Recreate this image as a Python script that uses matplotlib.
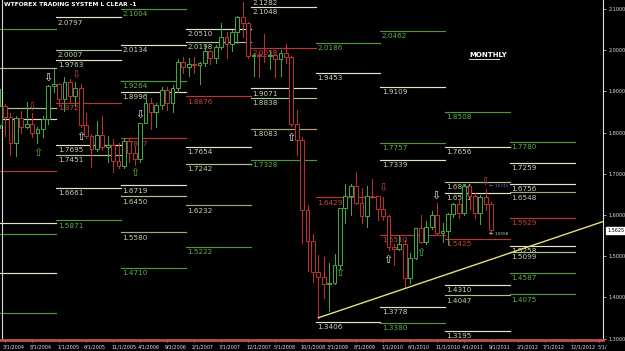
import numpy as np
import matplotlib.pyplot as plt
from matplotlib.patches import Rectangle
from matplotlib.lines import Line2D
import matplotlib.transforms as mtransforms

plt.rcParams['font.family'] = ['DejaVu Sans']

# monthly GBP/USD candles, month index 0 = Jan 2004 .. 92 = Sep 2011
opens = [1.7850, 1.8190, 1.8650, 1.8390, 1.7745, 1.8345, 1.8140, 1.8205, 1.7995, 1.8085, 1.8330, 1.9125,
         1.9190, 1.8825, 1.9230, 1.8880, 1.9090, 1.8185, 1.7910, 1.7600, 1.7950, 1.7655, 1.7695, 1.7305,
         1.7190, 1.7795, 1.7515, 1.7365, 1.8235, 1.8710, 1.8490, 1.8675, 1.9040, 1.8720, 1.9090, 1.9705,
         1.9580, 1.9660, 1.9630, 1.9680, 1.9985, 1.9800, 2.0070, 2.0325, 2.0140, 2.0450, 2.0815, 2.0655,
         1.9855, 1.9890, 1.9855, 1.9850, 1.9880, 1.9790, 1.9930, 1.9825, 1.8210, 1.7810, 1.6115, 1.5360,
         1.4620, 1.4485, 1.4315, 1.4340, 1.4795, 1.6160, 1.6450, 1.6700, 1.6290, 1.5980, 1.6465, 1.6450,
         1.6150, 1.5985, 1.5235, 1.5185, 1.5300, 1.4460, 1.4945, 1.5685, 1.5345, 1.5705, 1.6010, 1.5575,
         1.5615, 1.6025, 1.6260, 1.6045, 1.6695, 1.6450, 1.6050, 1.6425, 1.6255]
highs = [1.8480, 1.9050, 1.8700, 1.8480, 1.8395, 1.8520, 1.8750, 1.8480, 1.8135, 1.8405, 1.9150, 1.9550,
         1.9200, 1.9340, 1.9310, 1.9235, 1.9190, 1.8480, 1.7975, 1.8270, 1.8410, 1.7920, 1.7850, 1.7745,
         1.7880, 1.7880, 1.7670, 1.8240, 1.8935, 1.8840, 1.8720, 1.9110, 1.9095, 1.9155, 1.9790, 1.9845,
         1.9820, 1.9845, 1.9720, 2.0135, 2.0000, 2.0120, 2.0655, 2.0450, 2.0480, 2.0840, 2.1160, 2.0680,
         1.9935, 1.9940, 2.0395, 1.9990, 1.9880, 1.9995, 2.0155, 1.9855, 1.8555, 1.7900, 1.6235, 1.5545,
         1.5030, 1.4985, 1.4840, 1.5045, 1.6170, 1.6745, 1.6745, 1.7040, 1.6660, 1.6700, 1.6880, 1.6455,
         1.6445, 1.5995, 1.5295, 1.5525, 1.5395, 1.5070, 1.5695, 1.5995, 1.5860, 1.6105, 1.6300, 1.5810,
         1.6060, 1.6280, 1.6400, 1.6745, 1.6700, 1.6545, 1.6475, 1.6620, 1.6320]
lows = [1.7780, 1.8110, 1.7925, 1.7455, 1.7440, 1.7990, 1.8120, 1.7905, 1.7755, 1.7885, 1.8220, 1.8995,
        1.8645, 1.8530, 1.8750, 1.8650, 1.8135, 1.7875, 1.7160, 1.7565, 1.7585, 1.7285, 1.7045, 1.7150,
        1.7135, 1.7275, 1.7215, 1.7285, 1.8230, 1.8095, 1.8140, 1.8580, 1.8540, 1.8510, 1.8990, 1.9440,
        1.9365, 1.9440, 1.9175, 1.9605, 1.9660, 1.9685, 2.0040, 1.9810, 1.9985, 2.0175, 2.0310, 1.9810,
        1.9370, 1.9360, 1.9715, 1.9545, 1.9360, 1.9370, 1.9690, 1.8150, 1.7445, 1.5330, 1.4630, 1.4385,
        1.3505, 1.3985, 1.3660, 1.4320, 1.4690, 1.5800, 1.6005, 1.6255, 1.5805, 1.5705, 1.6420, 1.5885,
        1.5870, 1.5155, 1.4780, 1.5150, 1.4230, 1.4350, 1.4930, 1.5330, 1.5295, 1.5650, 1.5535, 1.5350,
        1.5300, 1.5950, 1.5935, 1.5990, 1.6145, 1.5935, 1.5780, 1.6125, 1.5530]
closes = [1.8190, 1.8650, 1.8390, 1.7745, 1.8345, 1.8140, 1.8205, 1.7995, 1.8085, 1.8330, 1.9125, 1.9190,
          1.8825, 1.9230, 1.8880, 1.9090, 1.8185, 1.7910, 1.7600, 1.7950, 1.7655, 1.7695, 1.7305, 1.7190,
          1.7795, 1.7515, 1.7365, 1.8235, 1.8710, 1.8490, 1.8675, 1.9040, 1.8720, 1.9090, 1.9705, 1.9580,
          1.9660, 1.9630, 1.9680, 1.9985, 1.9800, 2.0070, 2.0325, 2.0140, 2.0450, 2.0815, 2.0655, 1.9855,
          1.9890, 1.9855, 1.9850, 1.9880, 1.9790, 1.9930, 1.9825, 1.8210, 1.7810, 1.6115, 1.5360, 1.4620,
          1.4485, 1.4315, 1.4340, 1.4795, 1.6160, 1.6450, 1.6700, 1.6290, 1.5980, 1.6465, 1.6450, 1.6150,
          1.5985, 1.5235, 1.5185, 1.5300, 1.4460, 1.4945, 1.5685, 1.5345, 1.5705, 1.6010, 1.5575, 1.5615,
          1.6025, 1.6260, 1.6045, 1.6695, 1.6450, 1.6050, 1.6425, 1.6255, 1.5625]

# yearly levels and their kind: p = pivot, a = light, g = green, l = pale green, o = olive
level_years = [2004, 2005, 2006, 2007, 2008, 2009, 2010, 2011, 2012]
levels_2004 = [2.0515, 1.9568, 1.8597, 1.8330, 1.7068, 1.5813, 1.5532, 1.4592, 1.3621]
kinds_2004 = ['g', 'l', 'l', 'a', 'p', 'a', 'g', 'a', 'g']
levels_2005 = [2.0797, 2.0007, 1.9763, 1.8724, 1.7695, 1.7451, 1.6661, 1.5871]
kinds_2005 = ['a', 'l', 'a', 'p', 'a', 'l', 'a', 'g']
levels_2006 = [2.1004, 2.0134, 1.9264, 1.8996, 1.7857, 1.6719, 1.6450, 1.5580, 1.4710]
kinds_2006 = ['g', 'a', 'g', 'a', 'p', 'a', 'l', 'o', 'g']
levels_2007 = [2.0510, 2.0198, 1.8876, 1.7654, 1.7242, 1.6232, 1.5222]
kinds_2007 = ['a', 'l', 'p', 'a', 'l', 'o', 'g']
levels_2008 = [2.1282, 2.1048, 2.0058, 1.9071, 1.8838, 1.8083, 1.7328]
kinds_2008 = ['a', 'a', 'p', 'a', 'l', 'o', 'g']
levels_2009 = [2.0186, 1.9453, 1.6429, 1.3406]
kinds_2009 = ['g', 'a', 'p', 'a']
levels_2010 = [2.0462, 1.9109, 1.7757, 1.7339, 1.5510, 1.3778, 1.3380]
kinds_2010 = ['g', 'a', 'g', 'a', 'p', 'a', 'g']
levels_2011 = [1.8508, 1.7656, 1.6804, 1.6541, 1.5425, 1.4310, 1.4047, 1.3195]
kinds_2011 = ['g', 'a', 'l', 'a', 'p', 'a', 'l', 'a']
levels_2012 = [1.7780, 1.7259, 1.6756, 1.6548, 1.5929, 1.5258, 1.5099, 1.4587, 1.4075]
kinds_2012 = ['g', 'a', 'a', 'o', 'p', 'a', 'l', 'g', 'g']
all_levels = [levels_2004, levels_2005, levels_2006, levels_2007, levels_2008,
              levels_2009, levels_2010, levels_2011, levels_2012]
all_kinds = [kinds_2004, kinds_2005, kinds_2006, kinds_2007, kinds_2008,
             kinds_2009, kinds_2010, kinds_2011, kinds_2012]

# signal arrows (month, price, direction, kind)
arrow_months = [9.9, 15.1, 7.0, 8.1, 16.1, 27.0, 26.1, 54.9, 64.0, 72.9, 79.0, 81.8, 90.9, 72.0]
arrow_prices = [1.9325, 1.940, 1.862, 1.7505, 1.789, 1.843, 1.702, 1.787, 1.459, 1.491, 1.508, 1.646, 1.680, 1.666]
arrow_dirs = ['d', 'd', 'd', 'u', 'u', 'd', 'u', 'u', 'u', 'u', 'u', 'd', 'd', 'd']
arrow_kinds = ['w', 'r', 'r', 'g', 'w', 'w', 'g', 'w', 'g', 'w', 'g', 'w', 'r', 'r']

# trend line through the 2009 low
trend_months = [60, 108.1]
trend_prices = [1.3505, 1.5636]

tick_months = list(range(2, 113, 5))
tick_labels = ['3/1/2004', '8/1/2004', '1/1/2005', '6/1/2005', '11/1/2005', '4/1/2006', '9/1/2006',
               '2/1/2007', '7/1/2007', '12/1/2007', '5/1/2008', '10/1/2008', '3/1/2009', '8/1/2009',
               '1/1/2010', '6/1/2010', '11/1/2010', '4/1/2011', '9/1/2011', '2/1/2012', '7/1/2012',
               '12/1/2012', '5/1/']

line_col = {'p': '#b8392f', 'a': '#e4e4c8', 'g': '#4e9a38', 'l': '#a9c890', 'o': '#a8a47c'}
text_col = {'p': '#c8463c', 'a': '#d0d0b8', 'g': '#62ae4c', 'l': '#c0d0a8', 'o': '#c8c8b0'}
arrow_col = {'w': '#e8e8e8', 'g': '#5fb04a', 'r': '#c04038'}

fig = plt.figure(figsize=(6.25, 3.51), dpi=100, facecolor='black')
ax = fig.add_axes([0, 11 / 351, 603 / 625, 340 / 351], facecolor='black')
ax.set_xlim(1.056, 112.72)
ax.set_ylim(1.2966, 2.1218)

# yearly level segments
for i, yr in enumerate(level_years):
    x0 = (yr - 2004) * 12 - 0.5
    x1 = x0 + 12
    for v, k in zip(all_levels[i], all_kinds[i]):
        ax.plot([x0, x1], [v, v], color=line_col[k], lw=0.85, zorder=1)
        if x0 > ax.get_xlim()[0]:
            ax.annotate('%.4f' % v, (x0, v), xytext=(1.0, -1.6), textcoords='offset points',
                        va='top', ha='left', fontsize=5.2, color=text_col[k], zorder=1,
                        annotation_clip=False, clip_on=True)

# candles
months = np.arange(len(opens))
w = 0.7
for m, o, h, l, c in zip(months, opens, highs, lows, closes):
    col = '#44a444' if c >= o else '#b83030'
    ax.plot([m, m], [l, h], color=col, lw=0.75, zorder=3)
    lo = min(o, c)
    hgt = max(abs(c - o), 0.002)
    ax.add_patch(Rectangle((m - w / 2, lo), w, hgt, facecolor='black', edgecolor=col, lw=0.75, zorder=4))

# trend line
slope = (trend_prices[1] - trend_prices[0]) / (trend_months[1] - trend_months[0])
tx = np.array([trend_months[0], 113])
ax.plot(tx, trend_prices[0] + slope * (tx - trend_months[0]), color='#e8e070', lw=1.0, zorder=5)

# arrows
for m, p, d, k in zip(arrow_months, arrow_prices, arrow_dirs, arrow_kinds):
    ax.text(m, p, '\u21e7' if d == 'u' else '\u21e9', fontsize=8,
            color=arrow_col[k], ha='center', va='center', zorder=6)

# last price notes
ax.text(91.6, 1.6745, '\u2190', fontsize=4, color='#b050d0', va='center', zorder=6)
ax.text(92.6, 1.6715, '1.6745', fontsize=3, color='#b050d0', va='center', zorder=6)
ax.text(91.6, 1.5560, '\u2190', fontsize=4, color='#d0d0d0', va='center', zorder=6)
ax.text(92.6, 1.5530, '1.5558', fontsize=3, color='#d0d0d0', va='center', zorder=6)

# left separator line
ax.plot([0.004, 0.004], [0, 1], transform=ax.transAxes, color='#d8d8d8', lw=0.8)

# axes styling
for s in ['top', 'left']:
    ax.spines[s].set_visible(False)
ax.spines['right'].set_color('#e0e0e0')
ax.spines['right'].set_linewidth(0.8)
ax.spines['bottom'].set_color('#c05050')
ax.spines['bottom'].set_linewidth(2.0)
ax.spines['bottom'].set_linestyle((0, (2, 1)))

ax.yaxis.tick_right()
ax.set_yticks(np.arange(1.3, 2.101, 0.1))
ax.set_yticklabels(['%.4f' % t for t in np.arange(1.3, 2.101, 0.1)])
ax.tick_params(axis='y', colors='#e0e0e0', labelsize=3.5, length=2, width=0.5, pad=2)
ax.set_xticks(tick_months)
ax.set_xticklabels(tick_labels, ha='left')
ax.tick_params(axis='x', colors='#e0e0e0', labelsize=3.5, length=1.5, width=0.5, pad=1.5)
off = mtransforms.ScaledTranslation(-2 / 100, 0, fig.dpi_scale_trans)
for lab in ax.get_xticklabels():
    lab.set_transform(lab.get_transform() + off)

# current price box
ax.annotate('%.4f' % closes[-1], (1.0, closes[-1]), xycoords=('axes fraction', 'data'),
            xytext=(3, 0), textcoords='offset points', fontsize=3.5, color='black', va='center',
            bbox=dict(boxstyle='square,pad=0.2', fc='white', ec='white'),
            annotation_clip=False)

# titles
fig.text(4 / 625, 1 - 5 / 351, 'WTFOREX TRADING SYSTEM L CLEAR -1', color='white', fontsize=4.3,
         fontweight='bold', va='center', ha='left')
fig.text(469 / 625, 1 - 55 / 351, 'MONTHLY', color='white', fontsize=5, fontweight='bold',
         va='center', ha='left')
fig.add_artist(Line2D([469 / 625, 499 / 625], [1 - 59 / 351, 1 - 59 / 351], color='white', lw=0.6))

fig.savefig('out.png', dpi=100, facecolor='black')
